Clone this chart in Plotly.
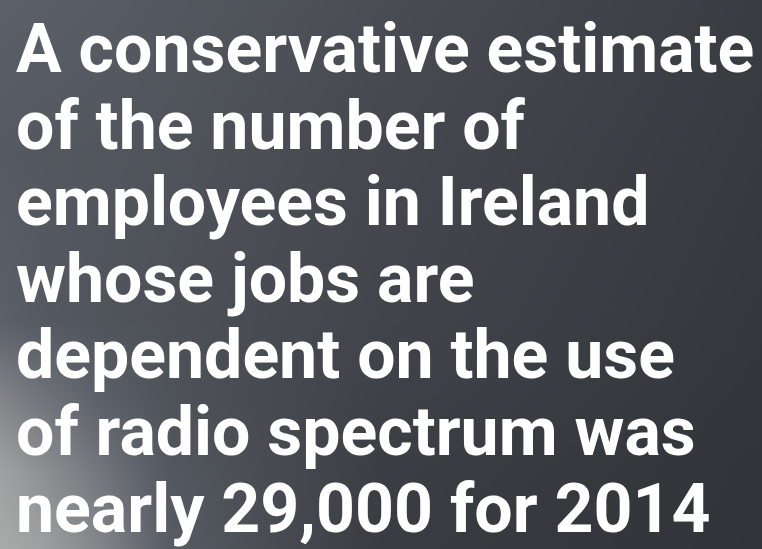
import plotly.graph_objects as go

# ---- content ----
lines = [
    "A conservative estimate",
    "of the number of",
    "employees in Ireland",
    "whose jobs are",
    "dependent on the use",
    "of radio spectrum was",
    "nearly 29,000 for 2014",
]

# ---- background (decorative gradient) ----
bg_x = [0, 40, 100, 170, 380, 762]
bg_y = [0, 150, 320, 400, 470, 549]
bg_z = [
    [100, 98, 95, 90, 78, 58],
    [92, 90, 88, 85, 72, 55],
    [100, 92, 86, 82, 68, 52],
    [135, 120, 100, 84, 64, 50],
    [160, 145, 120, 90, 60, 48],
    [170, 160, 135, 95, 58, 47],
]

W, H = 762, 549
fig = go.Figure()
fig.add_trace(go.Heatmap(
    x=bg_x, y=bg_y, z=bg_z, zsmooth="best", showscale=False, hoverinfo="skip",
    zmin=40, zmax=180,
    colorscale=[[0.0, "#2a2d31"], [0.43, "#5c6068"], [1.0, "#b5b6b4"]],
))

top, step, left = 49, 76.6, 15
for i, t in enumerate(lines):
    fig.add_annotation(
        x=left, y=top + step * i, xref="x", yref="y",
        text=t, showarrow=False, xanchor="left", yanchor="middle",
        borderpad=0,
        font=dict(family="Roboto, sans-serif", size=68, color="#ffffff", weight="bold"),
    )

fig.update_xaxes(range=[0, W], visible=False, fixedrange=True)
fig.update_yaxes(range=[H, 0], visible=False, fixedrange=True)
fig.update_layout(
    width=W, height=H, margin=dict(l=0, r=0, t=0, b=0),
    paper_bgcolor="#3f4247", plot_bgcolor="#3f4247", showlegend=False,
)
fig.write_html(
    "out.html",
    config={"displayModeBar": False},
    post_script="document.body.style.margin='0';document.body.style.background='#3f4247';",
)
